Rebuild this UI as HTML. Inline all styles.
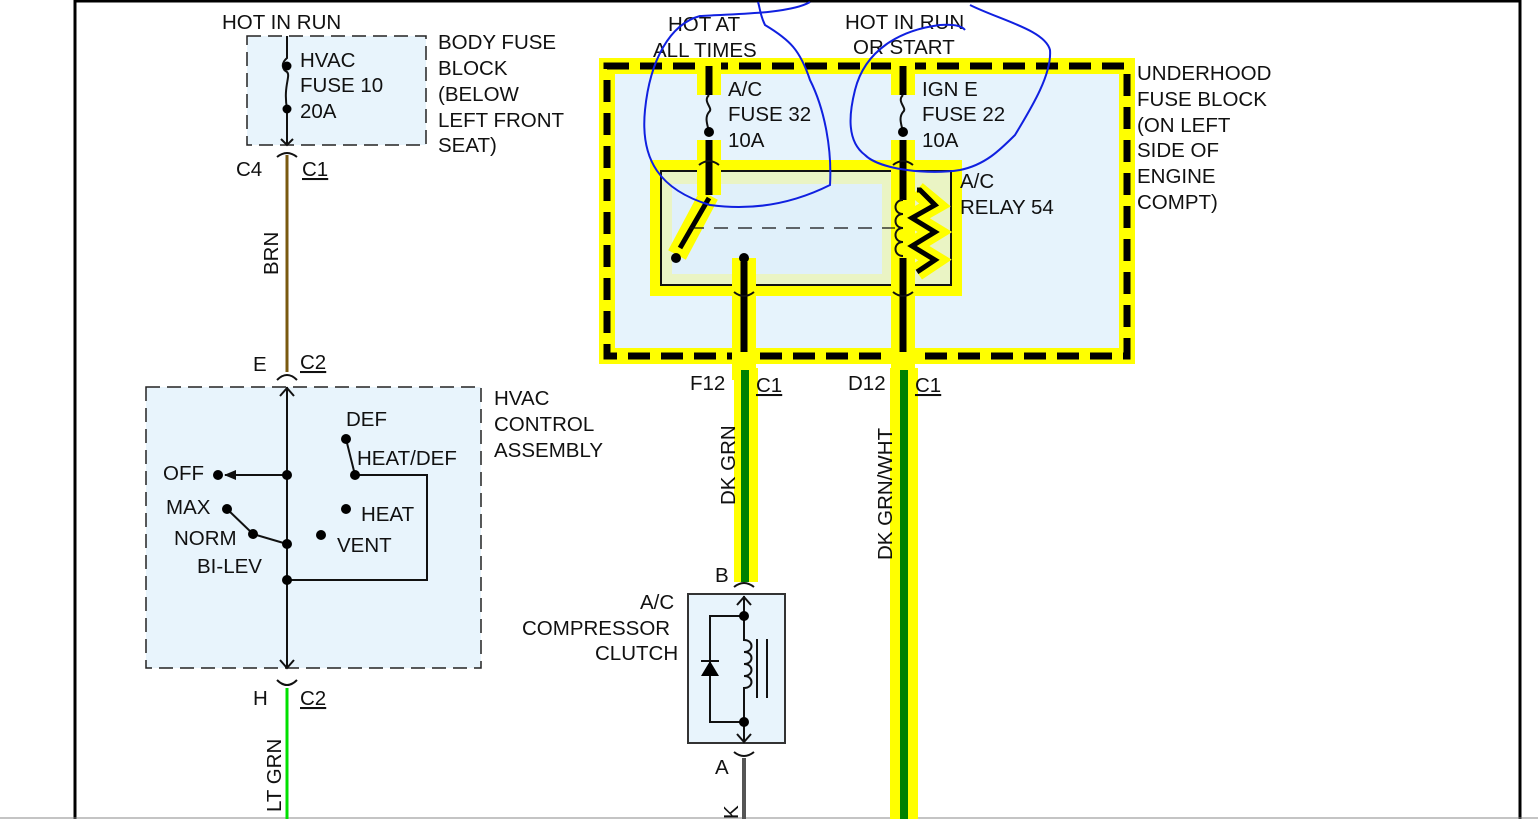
<!DOCTYPE html>
<html><head><meta charset="utf-8"><style>
html,body{margin:0;padding:0;background:#fff}
svg{display:block}
text{font-family:"Liberation Sans",Arial,sans-serif;font-size:20.5px;fill:#111}
</style></head><body>
<svg width="1538" height="819" viewBox="0 0 1538 819" xmlns="http://www.w3.org/2000/svg">
<rect x="0" y="0" width="1538" height="819" fill="#fff"/>
<line x1="75" y1="0" x2="75" y2="819" stroke="#000" stroke-width="3"/>
<line x1="1520" y1="0" x2="1520" y2="819" stroke="#000" stroke-width="3"/>
<line x1="75" y1="1" x2="1520" y2="1" stroke="#000" stroke-width="3"/>
<line x1="0" y1="818" x2="1538" y2="818" stroke="#888" stroke-width="1"/>

<rect x="247" y="36" width="179" height="109" fill="#e8f4fc" stroke="#222" stroke-width="1.5" stroke-dasharray="14,7"/>
<path d="M287 36 V58 C280 64 283 70 287 72 C291 76 283 86 287 109 V145" fill="none" stroke="#111" stroke-width="2"/>
<circle cx="287" cy="66" r="4.5" fill="#000"/><circle cx="287" cy="109" r="4.5" fill="#000"/>
<path d="M281 139 L287 145 L293 139" fill="none" stroke="#111" stroke-width="2"/>
<path d="M277 157 Q287 149 297 157" fill="none" stroke="#111" stroke-width="2"/>
<line x1="287" y1="155" x2="287" y2="372" stroke="#7a5a10" stroke-width="3"/>
<text x="222" y="29">HOT IN RUN</text>
<text x="300" y="67">HVAC</text><text x="300" y="92">FUSE 10</text><text x="300" y="118">20A</text>
<text x="438" y="49">BODY FUSE</text><text x="438" y="75">BLOCK</text><text x="438" y="101">(BELOW</text><text x="438" y="127">LEFT FRONT</text><text x="438" y="152">SEAT)</text>
<text x="236" y="176">C4</text><text x="302" y="176" text-decoration="underline">C1</text>
<text transform="translate(278,275) rotate(-90)">BRN</text>
<text x="253" y="371">E</text><text x="300" y="369" text-decoration="underline">C2</text>
<path d="M277 380 Q287 370 297 380" fill="none" stroke="#111" stroke-width="2"/>

<rect x="146" y="387" width="335" height="281" fill="#e8f4fc" stroke="#222" stroke-width="1.5" stroke-dasharray="14,7"/>
<line x1="287" y1="387" x2="287" y2="668" stroke="#111" stroke-width="2"/>
<path d="M280 396 L287 388 L294 396 M280 660 L287 668 L294 660" fill="none" stroke="#111" stroke-width="2"/>
<line x1="287" y1="475" x2="225" y2="475" stroke="#111" stroke-width="2"/>
<path d="M224 475 L236 470 L236 480Z" fill="#111"/>
<path d="M346 439 L355 475 H427 V580 H287" fill="none" stroke="#111" stroke-width="2"/>
<path d="M227 509 L253 534 L287 544" fill="none" stroke="#111" stroke-width="2"/>
<g fill="#000"><circle cx="287" cy="475" r="5"/><circle cx="218" cy="475" r="5"/><circle cx="346" cy="439" r="5"/><circle cx="355" cy="475" r="5"/><circle cx="227" cy="509" r="5"/><circle cx="253" cy="534" r="5"/><circle cx="287" cy="544" r="5"/><circle cx="346" cy="509" r="5"/><circle cx="321" cy="535" r="5"/><circle cx="287" cy="580" r="5"/></g>
<text x="346" y="426">DEF</text><text x="357" y="465">HEAT/DEF</text><text x="163" y="480">OFF</text>
<text x="166" y="514">MAX</text><text x="361" y="521">HEAT</text><text x="174" y="545">NORM</text><text x="337" y="552">VENT</text><text x="197" y="573">BI-LEV</text>
<text x="494" y="405">HVAC</text><text x="494" y="431">CONTROL</text><text x="494" y="457">ASSEMBLY</text>
<path d="M277 680 Q287 690 297 680" fill="none" stroke="#111" stroke-width="2"/>
<text x="253" y="705">H</text><text x="300" y="705" text-decoration="underline">C2</text>
<line x1="287" y1="688" x2="287" y2="819" stroke="#00e000" stroke-width="3"/>
<text transform="translate(281,812) rotate(-90)">LT GRN</text>

<rect x="607" y="66" width="520" height="290" fill="#e6f3fc"/>
<rect x="607" y="66" width="520" height="290" fill="none" stroke="#ffff00" stroke-width="16"/>
<rect x="607" y="66" width="520" height="290" fill="none" stroke="#000" stroke-width="7" stroke-dasharray="22,11"/>
<rect x="650" y="160" width="312" height="136" fill="#ffff00"/>
<rect x="661" y="171" width="290" height="114" fill="#eaf4c4" stroke="#111" stroke-width="2"/>
<rect x="672" y="184" width="210" height="90" fill="#e0f0fa"/>
<g stroke="#ffff00" stroke-width="24" fill="none">
<line x1="709" y1="60" x2="709" y2="95"/><line x1="709" y1="140" x2="709" y2="195"/>
<line x1="903" y1="60" x2="903" y2="95"/><line x1="903" y1="140" x2="903" y2="380"/>
<line x1="744" y1="258" x2="744" y2="380"/>
<line x1="709" y1="195" x2="677" y2="255" stroke-width="20"/>
<path d="M917 190 L935 205 L912 218 L935 232 L912 246 L935 260 L917 272" stroke-width="18"/>
</g>
<g stroke="#000" stroke-width="7" fill="none">
<line x1="709" y1="66" x2="709" y2="95"/><line x1="709" y1="140" x2="709" y2="195"/>
<line x1="903" y1="66" x2="903" y2="95"/><line x1="903" y1="140" x2="903" y2="200"/><line x1="903" y1="258" x2="903" y2="352"/>
<line x1="744" y1="262" x2="744" y2="352"/>
<line x1="709" y1="198" x2="680" y2="248" stroke-width="5"/>
<path d="M917 190 L920 190 L935 205 L912 218 L935 232 L912 246 L935 260 L917 272" stroke-width="5"/>
</g>
<path d="M709 95 C702 102 714 108 709 112 C704 118 708 126 709 132" fill="none" stroke="#111" stroke-width="2"/>
<path d="M903 95 C896 102 908 108 903 112 C898 118 902 126 903 132" fill="none" stroke="#111" stroke-width="2"/>
<circle cx="709" cy="132" r="5" fill="#000"/><circle cx="903" cy="132" r="5" fill="#000"/>
<circle cx="676" cy="258" r="5" fill="#000"/><circle cx="744" cy="258" r="5" fill="#000"/>
<path d="M903 200 c-10 0 -10 14 0 14 c-10 0 -10 14 0 14 c-10 0 -10 14 0 14 c-10 0 -10 14 0 14" fill="none" stroke="#111" stroke-width="2"/>
<line x1="690" y1="228" x2="895" y2="228" stroke="#111" stroke-width="1.2" stroke-dasharray="14,10"/>
<path d="M699 165 Q709 157 719 165 M893 165 Q903 157 913 165 M734 292 Q744 300 754 292 M893 292 Q903 300 913 292" fill="none" stroke="#111" stroke-width="2"/>
<text x="668" y="31">HOT AT</text><text x="653" y="57">ALL TIMES</text>
<text x="845" y="29">HOT IN RUN</text><text x="853" y="54">OR START</text>
<text x="728" y="96">A/C</text><text x="728" y="121">FUSE 32</text><text x="728" y="147">10A</text>
<text x="922" y="96">IGN E</text><text x="922" y="121">FUSE 22</text><text x="922" y="147">10A</text>
<text x="960" y="188">A/C</text><text x="960" y="214">RELAY 54</text>
<text x="1137" y="80">UNDERHOOD</text><text x="1137" y="106">FUSE BLOCK</text><text x="1137" y="132">(ON LEFT</text><text x="1137" y="157">SIDE OF</text><text x="1137" y="183">ENGINE</text><text x="1137" y="209">COMPT)</text>

<line x1="746" y1="368" x2="746" y2="582" stroke="#ffff00" stroke-width="24"/>
<line x1="745" y1="370" x2="745" y2="582" stroke="#008000" stroke-width="8"/>
<line x1="904" y1="368" x2="904" y2="819" stroke="#ffff00" stroke-width="28"/>
<line x1="904" y1="370" x2="904" y2="819" stroke="#008000" stroke-width="8"/>
<text x="690" y="390">F12</text><text x="756" y="392" text-decoration="underline">C1</text>
<text x="848" y="390">D12</text><text x="915" y="392" text-decoration="underline">C1</text>
<text transform="translate(735,505) rotate(-90)">DK GRN</text>
<text transform="translate(892,560) rotate(-90)">DK GRN/WHT</text>
<text x="715" y="582">B</text>
<path d="M734 587 Q744 579 754 587" fill="none" stroke="#111" stroke-width="2"/>

<rect x="688" y="594" width="97" height="149" fill="#e8f4fc" stroke="#333" stroke-width="2"/>
<path d="M744 596 V743 M737 605 L744 597 L751 605 M737 734 L744 742 L751 734" fill="none" stroke="#111" stroke-width="2"/>
<rect x="741" y="630" width="8" height="60" fill="#e8f4fc"/>
<path d="M744 616 V640 c10 0 10 12 0 12 c10 0 10 12 0 12 c10 0 10 12 0 12 c10 0 10 12 0 12 V722" fill="none" stroke="#111" stroke-width="2"/>
<path d="M757 639 V698 M767 639 V698" stroke="#111" stroke-width="2"/>
<path d="M744 616 H710 V722 H744" fill="none" stroke="#111" stroke-width="2"/>
<path d="M701 676 L719 676 L710 661Z" fill="#000"/><line x1="701" y1="661" x2="719" y2="661" stroke="#111" stroke-width="2"/>
<circle cx="744" cy="616" r="5" fill="#000"/><circle cx="744" cy="722" r="5" fill="#000"/>
<text x="640" y="609">A/C</text><text x="522" y="635">COMPRESSOR</text><text x="595" y="660">CLUTCH</text>
<path d="M734 752 Q744 760 754 752" fill="none" stroke="#111" stroke-width="2"/>
<text x="715" y="774">A</text>
<line x1="744" y1="758" x2="744" y2="819" stroke="#555" stroke-width="4"/>
<text transform="translate(738,819) rotate(-90)">K</text>

<g fill="none" stroke="#1020e0" stroke-width="2">
<path d="M810 2 C790 14 730 14 700 16 C670 24 650 60 645 110 C640 160 660 190 710 205 C760 212 800 200 830 185 C832 150 825 110 810 80 C800 50 790 40 765 25 C760 15 760 8 758 2"/>
<path d="M970 5 C1000 20 1045 30 1050 50 C1052 75 1030 110 1015 135 C1000 150 985 165 960 170 C930 175 880 170 865 155 C845 140 850 110 855 90 C865 50 900 30 940 25 C955 24 962 26 965 30"/>
</g>
</svg>
</body></html>
